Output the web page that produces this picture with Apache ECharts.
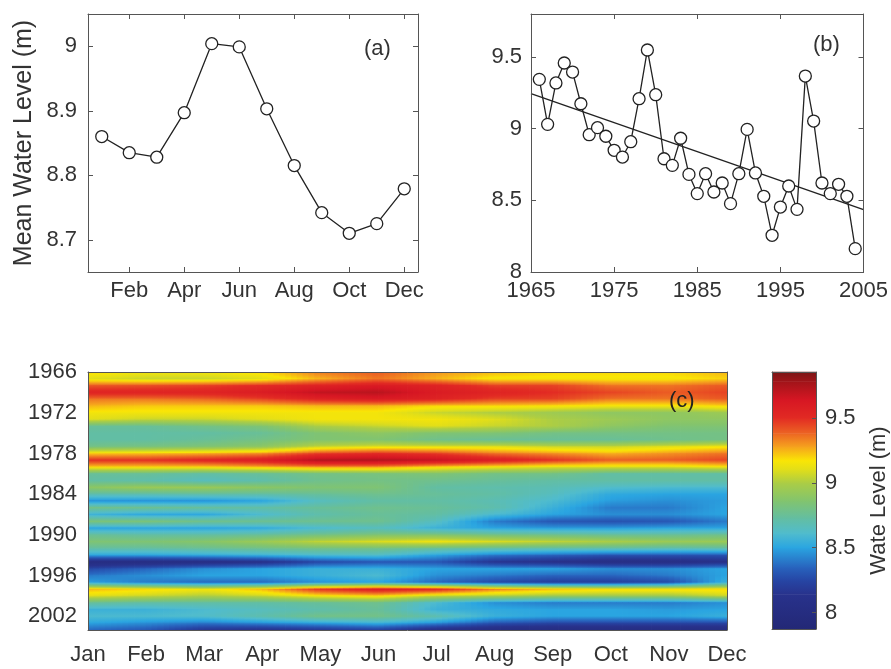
<!DOCTYPE html>
<html><head><meta charset="utf-8">
<script src="https://cdn.jsdelivr.net/npm/echarts@6/dist/echarts.min.js"></script>
<style>html,body{margin:0;padding:0;background:#fff}#c{width:891px;height:669px}</style>
</head><body><div id="c"></div>
<script>
// ---------- data ----------
const monthNames = ['Jan','Feb','Mar','Apr','May','Jun','Jul','Aug','Sep','Oct','Nov','Dec'];
const monthIndex = [1,2,3,4,5,6,7,8,9,10,11,12];
const meanLevel = [8.860, 8.835, 8.828, 8.897, 9.004, 8.999, 8.903, 8.815, 8.742, 8.710, 8.725, 8.779];

const years = [1966,1967,1968,1969,1970,1971,1972,1973,1974,1975,1976,1977,1978,1979,1980,
  1981,1982,1983,1984,1985,1986,1987,1988,1989,1990,1991,1992,1993,1994,1995,1996,1997,1998,
  1999,2000,2001,2002,2003,2004];
const annualLevel = [9.344,9.030,9.319,9.458,9.395,9.174,8.958,9.007,8.947,8.849,8.802,8.909,9.209,
  9.549,9.237,8.790,8.744,8.933,8.681,8.547,8.686,8.558,8.621,8.477,8.686,8.995,8.691,8.528,8.256,
  8.453,8.600,8.437,9.367,9.053,8.621,8.547,8.612,8.528,8.163];
const trendYears = [1965, 2005];
const trendLevels = [9.245, 8.435];

// monthly water level, one row per year (Jan..Dec)
const monthlyLevels = [
  [9.20,9.15,9.15,9.20,9.35,9.40,9.30,9.25,9.20,9.20,9.20,9.25], //1966
  [9.10,9.05,9.05,9.10,9.25,9.35,9.25,9.15,9.15,9.15,9.15,9.20], //1967
  [9.40,9.42,9.45,9.50,9.55,9.60,9.55,9.45,9.45,9.35,9.35,9.40], //1968
  [9.55,9.55,9.55,9.60,9.70,9.72,9.60,9.55,9.50,9.45,9.40,9.45], //1969
  [9.35,9.35,9.38,9.45,9.55,9.60,9.55,9.45,9.45,9.35,9.35,9.40], //1970
  [9.25,9.22,9.22,9.22,9.25,9.25,9.20,9.20,9.18,9.15,9.15,9.20], //1971
  [9.15,9.15,9.15,9.15,9.15,9.15,9.05,9.00,8.95,8.90,8.90,8.95], //1972
  [9.10,9.05,9.05,9.10,9.15,9.15,9.15,9.10,9.00,8.95,8.90,8.90], //1973
  [8.75,8.75,8.80,8.85,9.00,9.05,9.10,9.05,9.00,8.90,8.85,8.85], //1974
  [8.72,8.72,8.72,8.75,8.85,8.90,8.85,8.85,8.80,8.80,8.80,8.80], //1975
  [8.72,8.72,8.75,8.80,8.85,8.85,8.78,8.75,8.75,8.75,8.78,8.80], //1976
  [8.80,8.82,8.85,8.90,9.05,9.10,9.10,9.10,9.05,9.05,9.10,9.15], //1977
  [9.20,9.22,9.25,9.30,9.45,9.50,9.45,9.35,9.30,9.25,9.30,9.35], //1978
  [9.50,9.50,9.55,9.60,9.75,9.75,9.70,9.60,9.50,9.40,9.40,9.45], //1979
  [9.20,9.20,9.20,9.25,9.30,9.30,9.20,9.15,9.10,9.10,9.10,9.15], //1980
  [8.75,8.75,8.72,8.75,8.80,8.82,8.85,8.80,8.80,8.72,8.72,8.72], //1981
  [8.72,8.70,8.65,8.70,8.78,8.80,8.78,8.75,8.72,8.72,8.72,8.72], //1982
  [8.90,8.95,8.95,8.90,8.85,8.85,8.72,8.70,8.68,8.62,8.60,8.60], //1983
  [8.70,8.70,8.72,8.72,8.75,8.78,8.75,8.72,8.65,8.52,8.50,8.50], //1984
  [8.45,8.45,8.45,8.50,8.65,8.72,8.72,8.68,8.60,8.48,8.45,8.48], //1985
  [8.80,8.78,8.75,8.72,8.75,8.78,8.75,8.70,8.55,8.40,8.40,8.50], //1986
  [8.55,8.50,8.50,8.60,8.70,8.75,8.72,8.60,8.50,8.45,8.45,8.50], //1987
  [8.85,8.85,8.80,8.78,8.78,8.78,8.65,8.40,8.30,8.28,8.30,8.40], //1988
  [8.50,8.50,8.50,8.52,8.60,8.65,8.55,8.50,8.48,8.48,8.50,8.50], //1989
  [8.75,8.72,8.72,8.75,8.80,8.85,8.85,8.80,8.78,8.75,8.75,8.78], //1990
  [8.85,8.85,8.88,8.95,9.05,9.10,9.15,9.10,9.05,9.00,8.95,8.95], //1991
  [8.72,8.72,8.75,8.78,8.80,8.80,8.75,8.72,8.70,8.70,8.68,8.70], //1992
  [8.50,8.50,8.52,8.55,8.60,8.62,8.50,8.40,8.35,8.30,8.30,8.30], //1993
  [8.02,8.02,8.05,8.10,8.25,8.30,8.30,8.15,8.10,8.05,8.05,8.10], //1994
  [8.25,8.35,8.45,8.50,8.55,8.55,8.50,8.50,8.50,8.45,8.45,8.50], //1995
  [8.40,8.45,8.50,8.50,8.55,8.60,8.45,8.40,8.35,8.35,8.40,8.50], //1996
  [8.50,8.40,8.35,8.35,8.45,8.50,8.35,8.25,8.20,8.20,8.25,8.55], //1997
  [9.25,9.20,9.15,9.25,9.50,9.60,9.55,9.35,9.25,9.20,9.20,9.20], //1998
  [9.10,9.05,9.00,9.05,9.15,9.20,9.05,9.00,8.95,8.95,8.95,9.05], //1999
  [8.75,8.72,8.72,8.72,8.75,8.78,8.60,8.45,8.40,8.40,8.40,8.45], //2000
  [8.55,8.55,8.60,8.65,8.70,8.75,8.55,8.52,8.50,8.50,8.48,8.50], //2001
  [8.60,8.60,8.62,8.70,8.80,8.80,8.70,8.55,8.50,8.50,8.50,8.55], //2002
  [8.50,8.45,8.40,8.45,8.50,8.55,8.45,8.30,8.25,8.25,8.25,8.25], //2003
  [8.35,8.30,8.15,8.10,8.15,8.20,8.05,8.00,8.00,8.00,8.00,8.00]  //2004
];

// tick labels
const tickMonthsA = [2,4,6,8,10,12];
const tickLevelsA = [8.7,8.8,8.9,9.0];
const tickYearsB = [1965,1975,1985,1995,2005];
const tickLevelsB = [8,8.5,9,9.5];
const tickYearsC = [1966,1972,1978,1984,1990,1996,2002];
const tickLevelsBar = [8,8.5,9,9.5];

// ---------- style ----------
const FONT = "'Liberation Sans', Arial, Helvetica, sans-serif";
const TXT = '#333';
const LINE = '#555';
const colorbarMin = 7.874, colorbarMax = 9.853;
const cmapValues = [7.874,8.14,8.25,8.35,8.50,8.61,8.73,8.86,9.00,9.10,9.17,9.28,9.38,9.50,9.64,9.78,9.853];
const cmapColors = [[35,40,118],[40,50,140],[38,70,165],[40,100,190],[42,165,225],[80,188,205],
  [100,190,160],[130,196,110],[172,205,68],[225,222,25],[250,230,5],[245,160,30],[236,100,35],
  [226,42,35],[214,22,35],[160,20,25],[122,20,20]];

function colorOf(v) {
  if (v <= cmapValues[0]) return 'rgb(' + cmapColors[0].join(',') + ')';
  const n = cmapValues.length;
  if (v >= cmapValues[n-1]) return 'rgb(' + cmapColors[n-1].join(',') + ')';
  let k = 0;
  while (k < n - 2 && v > cmapValues[k+1]) k++;
  const t = (v - cmapValues[k]) / (cmapValues[k+1] - cmapValues[k]);
  const a = cmapColors[k], b = cmapColors[k+1];
  return 'rgb(' + [0,1,2].map(c => Math.round(a[c] + (b[c]-a[c])*t)).join(',') + ')';
}

const fmtLevel = v => String(Math.round(v*10)/10);
const lbl = (extra) => Object.assign({color: TXT, fontSize: 22, fontFamily: FONT}, extra);

function boxAxes(gridIndex, xmin, xmax, ymin, ymax, xTicks, yTicks, xLabel, yLabel, opts) {
  opts = opts || {};
  const tick = (vals) => ({show: !opts.noTicks, inside: true, length: 5, customValues: vals, lineStyle: {color: LINE}});
  const axl = {show: true, onZero: false, lineStyle: {color: LINE, width: 1}};
  const xa = [
    {type:'value', gridIndex, min:xmin, max:xmax, position:'bottom', axisLine: axl, z: 5,
     axisTick: tick(xTicks), splitLine:{show:false},
     axisLabel: lbl({customValues: xTicks, formatter: xLabel, margin: opts.xMargin || 8})},
    {type:'value', gridIndex, min:xmin, max:xmax, position:'top', axisLine: axl, z: 5,
     axisTick: tick(xTicks), splitLine:{show:false}, axisLabel:{show:false}}
  ];
  const ya = [
    Object.assign({type:'value', gridIndex, min:ymin, max:ymax, position:'left', axisLine: axl, z: 5,
     inverse: !!opts.yInverse,
     axisTick: tick(yTicks), splitLine:{show:false},
     axisLabel: lbl({customValues: yTicks, formatter: yLabel, margin: opts.yMargin || 10})}, opts.yExtra || {}),
    {type:'value', gridIndex, min:ymin, max:ymax, position:'right', axisLine: axl, z: 5,
     inverse: !!opts.yInverse,
     axisTick: tick(yTicks), splitLine:{show:false}, axisLabel:{show:false}}
  ];
  return {xa, ya};
}

const A = boxAxes(0, 0.5, 12.5, 8.65, 9.05, tickMonthsA, tickLevelsA,
  v => monthNames[Math.round(v)-1], fmtLevel,
  {yMargin: 11, yExtra: {name: 'Mean Water Level (m)', nameLocation: 'middle', nameGap: 51, nameRotate: 90,
   nameTextStyle: {color: TXT, fontSize: 25, fontFamily: FONT}}});
const B = boxAxes(1, 1965, 2005, 8, 9.8, tickYearsB, tickLevelsB, v => String(v), fmtLevel, {yMargin: 9});
const C = boxAxes(2, 1, 12, 1966, 2004, monthIndex, tickYearsC,
  v => monthNames[Math.round(v)-1], v => String(v), {noTicks: true, yInverse: true, xMargin: 14, yMargin: 11});

// colorbar axes
const barLine = {show:true, onZero:false, lineStyle:{color:LINE}};
const barX = [
  {type:'value', gridIndex:3, min:0, max:1, position:'bottom', axisLine: barLine, z:5,
   axisTick:{show:false}, axisLabel:{show:false}, splitLine:{show:false}},
  {type:'value', gridIndex:3, min:0, max:1, position:'top', axisLine: barLine, z:5,
   axisTick:{show:false}, axisLabel:{show:false}, splitLine:{show:false}}
];
const barY = [
  {type:'value', gridIndex:3, min:colorbarMin, max:colorbarMax, position:'right', z:5,
   axisLine: barLine,
   axisTick:{show:true, inside:true, length:4, customValues: tickLevelsBar, lineStyle:{color:LINE}},
   axisLabel: lbl({customValues: tickLevelsBar, formatter: fmtLevel, margin: 9}),
   splitLine:{show:false},
   name: 'Wate Level (m)', nameLocation: 'middle', nameGap: 52, nameRotate: 90,
   nameTextStyle: {color: TXT, fontSize: 22, fontFamily: FONT}},
  {type:'value', gridIndex:3, min:colorbarMin, max:colorbarMax, position:'left', z:5,
   axisLine: barLine, axisTick:{show:false}, axisLabel:{show:false}, splitLine:{show:false}}
];

const xAxes = [...A.xa, ...B.xa, ...C.xa, ...barX];
const yAxes = [...A.ya, ...B.ya, ...C.ya, ...barY];

// heat data
const heatData = [];
years.forEach((y, j) => monthIndex.forEach((m, i) => heatData.push([m, y, monthlyLevels[j][i]])));

const STRIPS = 10, STOPS = 7;
function renderHeat(params, api) {
  const m = api.value(0), y = api.value(1);
  const i = m - 1, j = years.indexOf(y);
  if (i >= monthIndex.length - 1 || j >= years.length - 1) return null;
  const v00 = monthlyLevels[j][i], v10 = monthlyLevels[j][i+1];
  const v01 = monthlyLevels[j+1][i], v11 = monthlyLevels[j+1][i+1];
  const children = [];
  for (let k = 0; k < STRIPS; k++) {
    const t = (k + 0.5) / STRIPS;
    const vt = v00 + (v10 - v00) * t, vb = v01 + (v11 - v01) * t;
    const p0 = api.coord([m + k / STRIPS, y]);
    const p1 = api.coord([m + (k + 1) / STRIPS, years[j+1]]);
    const stops = [];
    for (let q = 0; q < STOPS; q++) {
      const f = q / (STOPS - 1);
      stops.push({offset: f, color: colorOf(vt + (vb - vt) * f)});
    }
    children.push({
      type: 'rect',
      shape: {x: Math.min(p0[0], p1[0]) - 0.4, y: Math.min(p0[1], p1[1]) - 0.4,
              width: Math.abs(p1[0] - p0[0]) + 0.8, height: Math.abs(p1[1] - p0[1]) + 0.8},
      style: {fill: new echarts.graphic.LinearGradient(0, 0, 0, 1, stops)}
    });
  }
  return {type: 'group', children};
}

const barData = cmapValues.slice(0, -1).map((v, k) => [0, v, k]);
function renderBar(params, api) {
  const k = api.value(2);
  const lo = cmapValues[k], hi = cmapValues[k+1];
  const p0 = api.coord([0, hi]), p1 = api.coord([1, lo]);
  return {
    type: 'rect',
    shape: {x: p0[0], y: p0[1] - 0.3, width: p1[0] - p0[0], height: p1[1] - p0[1] + 0.6},
    style: {fill: new echarts.graphic.LinearGradient(0, 0, 0, 1, [
      {offset: 0, color: colorOf(hi)}, {offset: 1, color: colorOf(lo)}])}
  };
}

const chart = echarts.init(document.getElementById('c'));
chart.setOption({
  animation: false,
  backgroundColor: '#fff',
  grid: [
    {left: 88, top: 14, width: 330, height: 258},
    {left: 531, top: 14, width: 333, height: 258},
    {left: 88, top: 372, width: 639, height: 258},
    {left: 772, top: 372, width: 49, height: 257}
  ],
  xAxis: xAxes,
  yAxis: yAxes,
  graphic: [
    {type: 'text', left: 364, top: 38, style: {text: '(a)', fill: TXT, fontSize: 22, fontFamily: FONT}},
    {type: 'text', left: 813, top: 34, style: {text: '(b)', fill: TXT, fontSize: 22, fontFamily: FONT}},
    {type: 'text', left: 669, top: 390, z: 100, style: {text: '(c)', fill: '#222', fontSize: 22, fontFamily: FONT}}
  ],
  series: [
    {type: 'line', xAxisIndex: 0, yAxisIndex: 0, data: monthIndex.map((m, i) => [m, meanLevel[i]]),
     symbol: 'circle', symbolSize: 12, showAllSymbol: true,
     lineStyle: {color: '#222', width: 1.3}, itemStyle: {color: '#fff', borderColor: '#222', borderWidth: 1.3}},
    {type: 'line', xAxisIndex: 2, yAxisIndex: 2, data: trendYears.map((y, i) => [y, trendLevels[i]]),
     symbol: 'none', lineStyle: {color: '#222', width: 1.3}, z: 1},
    {type: 'line', xAxisIndex: 2, yAxisIndex: 2, data: years.map((y, i) => [y, annualLevel[i]]),
     symbol: 'circle', symbolSize: 12, showAllSymbol: true, z: 3,
     lineStyle: {color: '#222', width: 1.3}, itemStyle: {color: '#fff', borderColor: '#222', borderWidth: 1.3}},
    {type: 'custom', xAxisIndex: 4, yAxisIndex: 4, data: heatData, renderItem: renderHeat,
     encode: {x: 0, y: 1}, clip: true, silent: true},
    {type: 'custom', xAxisIndex: 6, yAxisIndex: 6, data: barData, renderItem: renderBar,
     encode: {x: 0, y: 1}, silent: true}
  ]
});
</script></body></html>
